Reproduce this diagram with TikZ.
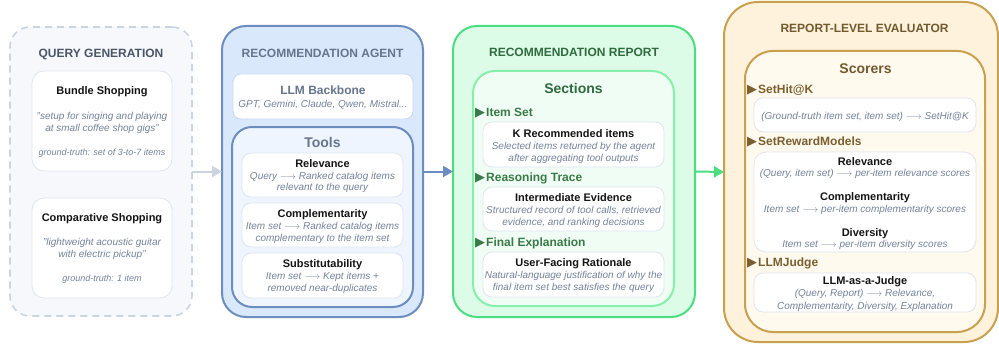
\documentclass[tikz,border=0pt]{standalone}
\usepackage{fontspec}
\setmainfont{Liberation Sans}
\newfontfamily\symfont{DejaVu Sans}
\usetikzlibrary{fit,arrows.meta}
\definecolor{pOneFill}{HTML}{F6F8FB}
\definecolor{pOneLine}{HTML}{CBD5E1}
\definecolor{slate}{HTML}{4A5568}
\definecolor{grayTxt}{HTML}{74839A}
\definecolor{cardLine}{HTML}{DFE5EE}
\definecolor{darkTxt}{HTML}{141414}
\definecolor{blueFill}{HTML}{DAE8FC}
\definecolor{blueLine}{HTML}{6C8EBF}
\definecolor{blueTitle}{HTML}{66758C}
\definecolor{toolsFill}{HTML}{EEF5FE}
\definecolor{llmLine}{HTML}{C8D8F2}
\definecolor{greenFill}{HTML}{DCFCE7}
\definecolor{greenLine}{HTML}{4ADE80}
\definecolor{greenTitle}{HTML}{2F6B3F}
\definecolor{secFill}{HTML}{F0FDF4}
\definecolor{secLine}{HTML}{86EFAC}
\definecolor{secHead}{HTML}{3A7A48}
\definecolor{goldFill}{HTML}{FEF2DC}
\definecolor{goldLine}{HTML}{C9A04E}
\definecolor{goldTitle}{HTML}{735A2E}
\definecolor{scFill}{HTML}{FFF9EE}
\definecolor{scHead}{HTML}{7A6030}
\tikzset{
  box/.style={inner sep=0pt, outer sep=0pt},
  cardbox/.style={box, draw=cardLine, fill=white, line width=0.8pt, rounded corners=9pt},
  paneltitle/.style={anchor=base, inner sep=0pt, font=\bfseries\fontsize{12}{14}\selectfont},
  cardtitle/.style={anchor=base, inner sep=0pt, text=darkTxt, font=\bfseries\fontsize{11}{13}\selectfont},
  desc/.style={anchor=base, inner sep=0pt, text=grayTxt, font=\itshape\fontsize{10}{12}\selectfont},
  gt/.style={anchor=base, inner sep=0pt, text=grayTxt, font=\itshape\fontsize{9}{11}\selectfont},
  bigtitle/.style={anchor=base, inner sep=0pt, font=\bfseries\fontsize{14}{16}\selectfont},
  head/.style={anchor=base west, inner sep=0pt, font=\bfseries\fontsize{12}{14}\selectfont},
  conn/.style={line width=2pt, -{Triangle[length=10pt,width=11pt]}}
}
\newcommand{\tri}{{\symfont\fontsize{13}{14}\selectfont ▶}\hspace{1pt}}
\newcommand{\la}{$\longrightarrow$}
\begin{document}
\begin{tikzpicture}[x=1pt,y=-1pt]
\useasboundingbox (0,0) rectangle (999,345);

% ---------------- Panel 1
\node[box, fit={(10,27) (192,316)}, draw=pOneLine, fill=pOneFill, line width=1.6pt,
      dash pattern=on 7pt off 5pt, rounded corners=20pt] (p1) {};
\node[paneltitle, text=slate] (p1t) at (101,58) {QUERY GENERATION};
\node[cardbox, fit={(32,71) (172,171)}, rounded corners=12pt] (c1) {};
\node[cardtitle] (c1t) at (102,95) {Bundle Shopping};
\node[desc] (c1a) at (102,119.5) {"setup for singing and playing};
\node[desc] (c1b) at (102,131.5) {at small coffee shop gigs"};
\node[gt] (c1c) at (102,155) {ground-truth: set of 3-to-7 items};
\node[cardbox, fit={(32,198) (172,298)}, rounded corners=12pt] (c2) {};
\node[cardtitle] (c2t) at (102,221) {Comparative Shopping};
\node[desc] (c2a) at (102,245.5) {"lightweight acoustic guitar};
\node[desc] (c2b) at (102,257.5) {with electric pickup"};
\node[gt] (c2c) at (102,281) {ground-truth: 1 item};

% ---------------- Panel 2
\node[box, fit={(222,26) (423,317)}, draw=blueLine, fill=blueFill, line width=2pt, rounded corners=24pt] (p2) {};
\node[paneltitle, text=blueTitle] (p2t) at (322.5,58) {RECOMMENDATION AGENT};
\node[box, fit={(233,74) (413,119)}, draw=llmLine, fill=white, line width=0.8pt, rounded corners=8pt] (llm) {};
\node[anchor=base, inner sep=0pt, text=blueTitle, font=\bfseries\fontsize{12}{14}\selectfont] (llmt) at (323,94.5) {LLM Backbone};
\node[desc] (llma) at (323,107.5) {GPT, Gemini, Claude, Qwen, Mistral...};
\node[box, fit={(232,127) (413,307)}, draw=blueLine, fill=toolsFill, line width=2pt, rounded corners=20pt] (tools) {};
\node[bigtitle, text=blueTitle] (toolst) at (322.5,147) {Tools};
\node[cardbox, fit={(242,153) (403,197)}] (t1) {};
\node[cardtitle] (t1t) at (322.5,167) {Relevance};
\node[desc] (t1a) at (322.5,179) {Query \la{} Ranked catalog items};
\node[desc] (t1b) at (322.5,190.7) {relevant to the query};
\node[cardbox, fit={(242,203) (403,247)}] (t2) {};
\node[cardtitle] (t2t) at (322.5,217) {Complementarity};
\node[desc] (t2a) at (322.5,229.2) {Item set \la{} Ranked catalog items};
\node[desc] (t2b) at (322.5,241.2) {complementary to the item set};
\node[cardbox, fit={(242,253) (403,298)}] (t3) {};
\node[cardtitle] (t3t) at (322.5,267) {Substitutability};
\node[desc] (t3a) at (322.5,279.5) {Item set \la{} Kept items +};
\node[desc] (t3b) at (322.5,291) {removed near-duplicates};

% ---------------- Panel 3
\node[box, fit={(453,26) (695,317)}, draw=greenLine, fill=greenFill, line width=2pt, rounded corners=24pt] (p3) {};
\node[paneltitle, text=greenTitle] (p3t) at (574,57) {RECOMMENDATION REPORT};
\node[box, fit={(473,71) (674,306)}, draw=secLine, fill=secFill, line width=2pt, rounded corners=22pt] (sec) {};
\node[bigtitle, text=greenTitle] (sect) at (573.5,93) {Sections};
\node[head, text=secHead] (h1) at (475,116) {\tri Item Set};
\node[cardbox, fit={(483,122) (664,167)}] (r1) {};
\node[cardtitle] (r1t) at (573.5,137) {K Recommended items};
\node[desc] (r1a) at (573.5,149.5) {Selected items returned by the agent};
\node[desc] (r1b) at (573.5,161) {after aggregating tool outputs};
\node[head, text=secHead] (h2) at (475,181) {\tri Reasoning Trace};
\node[cardbox, fit={(483,187) (664,231)}] (r2) {};
\node[cardtitle] (r2t) at (573.5,201) {Intermediate Evidence};
\node[desc] (r2a) at (573.5,213) {Structured record of tool calls, retrieved};
\node[desc] (r2b) at (573.5,225) {evidence, and ranking decisions};
\node[head, text=secHead] (h3) at (475,246) {\tri Final Explanation};
\node[cardbox, fit={(483,252) (664,297)}] (r3) {};
\node[cardtitle] (r3t) at (573.5,266.3) {User-Facing Rationale};
\node[desc] (r3a) at (573.5,278.5) {Natural-language justification of why the};
\node[desc] (r3b) at (573.5,290.2) {final item set best satisfies the query};

% ---------------- Panel 4
\node[box, fit={(724,2) (998,342)}, draw=goldLine, fill=goldFill, line width=2pt, rounded corners=34pt] (p4) {};
\node[paneltitle, text=goldTitle] (p4t) at (864.5,33) {REPORT-LEVEL EVALUATOR};
\node[box, fit={(745,51) (985,332)}, draw=goldLine, fill=scFill, line width=2pt, rounded corners=28pt] (sc) {};
\node[bigtitle, text=goldTitle] (sct) at (865.5,74) {Scorers};
\node[head, text=scHead] (g1) at (747,93.5) {\tri SetHit@K};
\node[cardbox, fit={(754,98) (976,132)}] (s1) {};
\node[desc] (s1a) at (865,119.5) {(Ground-truth item set, item set) \la{} SetHit@K};
\node[head, text=scHead] (g2) at (747,145.5) {\tri SetRewardModels};
\node[cardbox, fit={(754,152) (976,252)}, rounded corners=12pt] (s2) {};
\node[cardtitle] (s2t) at (865,165) {Relevance};
\node[desc] (s2a) at (865,176.2) {(Query, item set) \la{} per-item relevance scores};
\node[cardtitle] (s2u) at (865,200.7) {Complementarity};
\node[desc] (s2b) at (865,212.5) {Item set \la{} per-item complementarity scores};
\node[cardtitle] (s2v) at (865,236.7) {Diversity};
\node[desc] (s2c) at (865,247.8) {Item set \la{} per-item diversity scores};
\node[head, text=scHead] (g3) at (747,266) {\tri LLMJudge};
\node[cardbox, fit={(754,273) (976,312)}] (s3) {};
\node[cardtitle] (s3t) at (865,284.7) {LLM-as-a-Judge};
\node[desc] (s3a) at (865,296.2) {(Query, Report) \la{} Relevance,};
\node[desc] (s3b) at (865,309.2) {Complementarity, Diversity, Explanation};

% ---------------- Connectors
\draw[conn, draw=pOneLine, fill=pOneLine] (p1.east) -- (p2.west);
\draw[conn, draw=blueLine, fill=blueLine] (p2.east) -- (p3.west);
\draw[conn, draw=greenLine, fill=greenLine] (p3.east) -- (p4.west);
\end{tikzpicture}
\end{document}
